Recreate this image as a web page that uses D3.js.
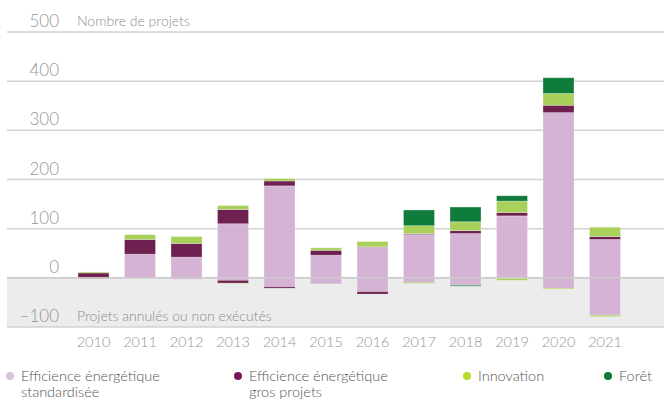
<!DOCTYPE html>
<html>
<head>
<meta charset="utf-8">
<script src="https://cdn.jsdelivr.net/npm/d3@7"></script>
<style>
  body { margin: 0; background: #fff; }
  svg { display: block; font-family: Lato, "Open Sans", sans-serif; }
</style>
</head>
<body>
<svg id="svg" width="664" height="407"></svg>
<script>
// années
const years = ["2010", "2011", "2012", "2013", "2014", "2015", "2016", "2017", "2018", "2019", "2020", "2021"];
// séries (projets réalisés)
const keys = ["std", "gros", "innov", "foret"];
const stdPos   = [1, 48, 42, 110, 187, 46, 62, 88, 90, 126, 336, 78];
const grosPos  = [9, 30, 28, 29, 10, 10, 1, 2, 6, 7, 15, 6];
const innovPos = [2, 10, 14, 8, 5, 5, 11, 16, 18, 23, 24, 19];
const foretPos = [0, 0, 0, 0, 0, 0, 0, 32, 30, 11, 32, 0];
// projets annulés ou non exécutés
const stdNeg   = [0, 0, -3, -5, -18, -10, -28, -8, -15, -1, -20, -76];
const grosNeg  = [-1, 0, 0, -6, -3, -1, -5, -1.5, 0, 0, -1, 0];
const innovNeg = [0, 0, 0, -1, 0, 0, 0, -2, 0, -4, -2, -3];
const foretNeg = [0, 0, 0, 0, 0, 0, 0, 0, -2, 0, 0, 0];
// graduations
const yTicks = [500, 400, 300, 200, 100, 0, -100];
const legendLabels = [["Efficience énergétique", "standardisée"], ["Efficience énergétique", "gros projets"], ["Innovation"], ["Forêt"]];

const barColors = { std: "#d5b3d4", gros: "#6e2150", innov: "#a8d05a", foret: "#0f7c3c" };
const dotColors = { std: "#d9bfd9", gros: "#7b1660", innov: "#bcd631", foret: "#0b7a3b" };

const svg = d3.select("#svg");

const x = d3.scaleBand().domain(years).range([70.25, 628.25]).paddingInner(0.333).paddingOuter(0.1667);
const y = d3.scaleLinear().domain([-100, 500]).range([327, 32]);

//zone grise des projets annulés
svg.append("rect")
  .attr("x", 7).attr("y", y(0))
  .attr("width", 657).attr("height", y(-100) - y(0))
  .attr("fill", "#ececec");

//lignes de grille + étiquettes
const grid = svg.append("g");
yTicks.forEach((t) => {
  grid.append("line")
    .attr("x1", 7).attr("x2", 664)
    .attr("y1", y(t)).attr("y2", y(t))
    .attr("stroke", "#d2d2d2").attr("stroke-width", 1.5);
  grid.append("text")
    .attr("x", 59).attr("y", y(t) - 5)
    .attr("text-anchor", "end")
    .attr("font-size", 17).attr("font-weight", 300)
    .attr("fill", "#959595")
    .text(t < 0 ? "\u2212" + Math.abs(t) : t);
});

svg.append("text").attr("x", 77).attr("y", y(500) - 6)
  .attr("font-size", 14).attr("font-weight", 300).attr("fill", "#8c8c8c").text("Nombre de projets");
svg.append("text").attr("x", 77).attr("y", y(-100) - 6)
  .attr("font-size", 14).attr("font-weight", 300).attr("fill", "#8c8c8c").text("Projets annulés ou non exécutés");

//tableaux pour d3.stack
const posRows = years.map((yr, i) => ({ year: yr, std: stdPos[i], gros: grosPos[i], innov: innovPos[i], foret: foretPos[i] }));
const negRows = years.map((yr, i) => ({ year: yr, std: stdNeg[i], gros: grosNeg[i], innov: innovNeg[i], foret: foretNeg[i] }));

const stack = d3.stack().keys(keys).offset(d3.stackOffsetDiverging);
const layers = stack(posRows).concat(stack(negRows));

const bars = svg.append("g");
layers.forEach((layer) => {
  bars.selectAll(null)
    .data(layer.filter((d) => d[1] - d[0] !== 0))
    .join("rect")
    .attr("x", (d) => x(d.data.year))
    .attr("width", x.bandwidth())
    .attr("y", (d) => y(Math.max(d[0], d[1])))
    .attr("height", (d) => Math.abs(y(d[0]) - y(d[1])))
    .attr("fill", barColors[layer.key])
    .attr("stroke", "#fff").attr("stroke-opacity", 0.35).attr("stroke-width", 0.8);
});

//ligne du zéro par-dessus les barres
svg.append("line")
  .attr("x1", 7).attr("x2", 664)
  .attr("y1", y(0)).attr("y2", y(0))
  .attr("stroke", "#c8c8c8").attr("stroke-opacity", 0.7).attr("stroke-width", 1.5);

//années
svg.append("g").selectAll("text")
  .data(years)
  .join("text")
  .attr("x", (d) => x(d) + x.bandwidth() / 2)
  .attr("y", 347)
  .attr("text-anchor", "middle")
  .attr("font-size", 14.5).attr("font-weight", 300)
  .attr("fill", "#959595")
  .text((d) => d);

//légende
const legendX = [10, 238, 467, 608];
const legend = svg.append("g");
keys.forEach((k, i) => {
  legend.append("circle")
    .attr("cx", legendX[i]).attr("cy", 376)
    .attr("r", 4).attr("fill", dotColors[k]);
  legendLabels[i].forEach((line, j) => {
    legend.append("text")
      .attr("x", legendX[i] + 11).attr("y", 381 + j * 16)
      .attr("font-size", 14.5).attr("font-weight", 300)
      .attr("fill", "#555")
      .text(line);
  });
});
</script>
</body>
</html>
